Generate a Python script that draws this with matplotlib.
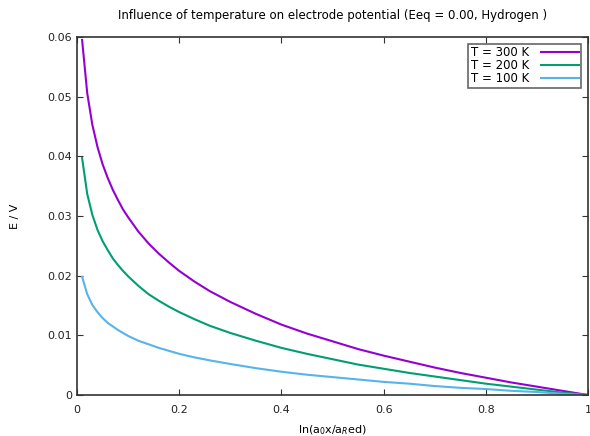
import numpy as np
import matplotlib
matplotlib.use('Agg')
import matplotlib.pyplot as plt

# activity ratio (x axis)
ratio = [0.01, 0.02, 0.03, 0.04, 0.05, 0.06, 0.07, 0.08, 0.09, 0.10,
         0.12, 0.14, 0.16, 0.18, 0.20, 0.23, 0.26, 0.30, 0.35, 0.40,
         0.45, 0.50, 0.55, 0.60, 0.65, 0.70, 0.75, 0.80, 0.85, 0.90,
         0.95, 1.00]

# electrode potential
e_300 = [0.0595, 0.0506, 0.0453, 0.0416, 0.0387, 0.0364, 0.0344, 0.0327,
         0.0311, 0.0298, 0.0274, 0.0254, 0.0237, 0.0222, 0.0208, 0.0190,
         0.0174, 0.0156, 0.0136, 0.0118, 0.0103, 0.0090, 0.0077, 0.0066,
         0.0056, 0.0046, 0.0037, 0.0029, 0.0021, 0.0014, 0.0007, 0.0]
e_200 = [0.0397, 0.0337, 0.0302, 0.0277, 0.0258, 0.0243, 0.0229, 0.0218,
         0.0208, 0.0199, 0.0183, 0.0169, 0.0158, 0.0148, 0.0139, 0.0127,
         0.0116, 0.0104, 0.0091, 0.0079, 0.0069, 0.0060, 0.0051, 0.0044,
         0.0037, 0.0031, 0.0025, 0.0019, 0.0014, 0.0009, 0.0004, 0.0]
e_100 = [0.0198, 0.0169, 0.0151, 0.0139, 0.0129, 0.0121, 0.0115, 0.0109,
         0.0104, 0.0099, 0.0091, 0.0085, 0.0079, 0.0074, 0.0069, 0.0063,
         0.0058, 0.0052, 0.0045, 0.0039, 0.0034, 0.0030, 0.0026, 0.0022,
         0.0019, 0.0015, 0.0012, 0.0010, 0.0007, 0.0005, 0.0002, 0.0]

labels = ['T = 300 K', 'T = 200 K', 'T = 100 K']
colors = ['#9400d3', '#009e73', '#56b4e9']

fig = plt.figure(figsize=(5.9, 4.36), dpi=100)
ax = fig.add_axes([77 / 590, 1 - 395 / 436, 511 / 590, 358 / 436])

for ys, lab, col in zip([e_300, e_200, e_100], labels, colors):
    ax.plot(ratio, ys, color=col, lw=1.5, label=lab)

ax.set_xlim(0, 1)
ax.set_ylim(0, 0.06)
ax.set_xticks([0, 0.2, 0.4, 0.6, 0.8, 1])
ax.set_xticklabels(['0', '0.2', '0.4', '0.6', '0.8', '1'])
ax.set_yticks([0, 0.01, 0.02, 0.03, 0.04, 0.05, 0.06])
ax.set_yticklabels(['0', '0.01', '0.02', '0.03', '0.04', '0.05', '0.06'])
ax.tick_params(direction='in', top=True, right=True, length=4,
               labelsize=8, color='#333333', labelcolor='#222222')
ax.tick_params(axis='x', pad=7)
for s in ax.spines.values():
    s.set_color('#333333')
    s.set_linewidth(1.2)

ax.set_xlabel(r'ln(a$_{0}$x/a$_{R}$ed)', fontsize=8, labelpad=6)
ax.set_ylabel('E / V', fontsize=8, labelpad=20)
ax.set_title('Influence of temperature on electrode potential (Eeq = 0.00, Hydrogen )',
             fontsize=8.5, pad=13)

leg = ax.legend(loc='upper right', markerfirst=False, fontsize=8.5,
                fancybox=False, framealpha=1, edgecolor='#666666',
                handlelength=3.2, borderaxespad=0.6, labelspacing=0.0,
                borderpad=0.2, handletextpad=1.0)
leg.get_frame().set_linewidth(1.2)

fig.savefig('out.png', dpi=100)
